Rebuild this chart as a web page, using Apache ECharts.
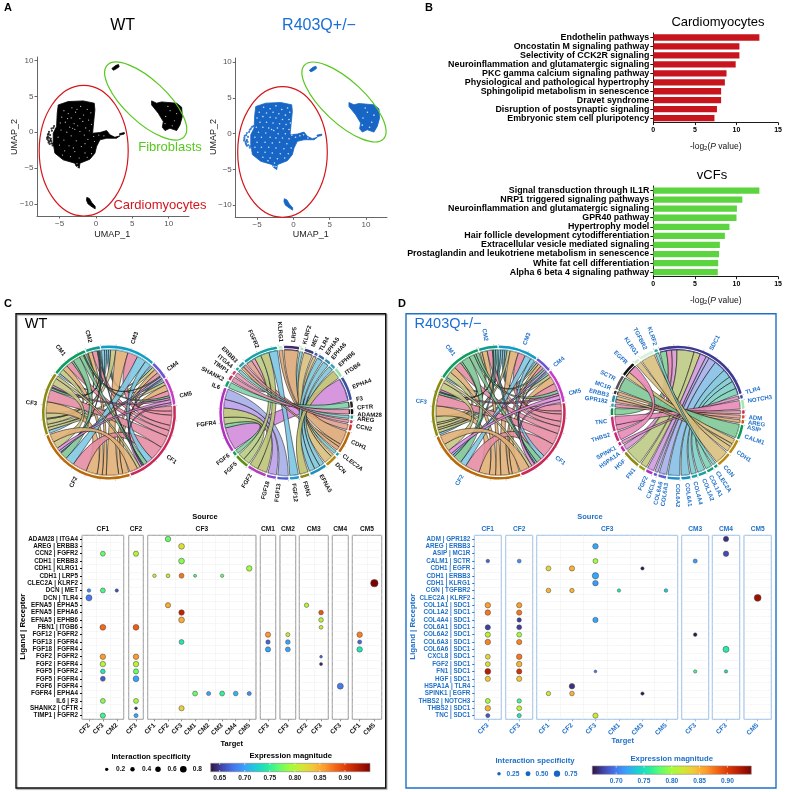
<!DOCTYPE html>
<html><head><meta charset="utf-8">
<style>html,body{margin:0;background:#fff}#c{width:785px;height:792px}</style>
<script src="https://cdn.jsdelivr.net/npm/echarts@6/dist/echarts.min.js"></script>
</head><body><div id="c"></div>
<script>
// ---------- Panel A: UMAP outlines (UMAP units)
const cmOutline=[[-5.18,3.81],[-3.81,4.28],[-1.74,4.37],[-0.23,4.05],[-0.14,3.12],[-0.46,-0.14],[0.55,-0.05],[1.47,0.23],[1.93,-0.37],[2.61,-0.7],[3.3,-0.51],[2.84,-0.84],[1.47,-0.84],[0.55,-1.07],[0.09,-2.0],[-0.14,-2.93],[-0.83,-3.77],[-2.2,-4.33],[-2.29,-5.02],[-2.75,-4.7],[-2.89,-4.33],[-4.5,-3.86],[-5.64,-2.93],[-5.87,-1.53],[-5.87,-0.14],[-5.41,0.79],[-5.32,2.65]];
const fbOutline=[[7.66,4.37],[8.35,4.05],[9.04,4.23],[11.1,4.05],[11.79,3.49],[11.88,2.19],[11.56,1.02],[11.1,0.23],[10.18,0.56],[9.5,0.23],[9.13,0.7],[9.27,1.49],[8.58,2.65],[7.66,3.81]];
const fbTopOutline=[[2.2,8.9],[2.7,9.3],[3.1,9.45],[3.2,9.15],[2.8,8.85],[2.4,8.65]];
const cmLowOutline=[[-1.25,-9.1],[-0.9,-9.25],[-0.55,-9.85],[-0.1,-10.35],[-0.1,-10.7],[-0.5,-10.45],[-1.1,-10.0],[-1.3,-9.5]];
const cmTipOutline=[[3.25,-0.2],[3.9,-0.05],[3.9,-0.25],[3.3,-0.4]];
const wtLeftArc=[[-6.5,-0.2],[-6.6,-0.6],[-6.7,-0.95],[-6.4,-1.3],[-6.1,-1.55],[-6.2,-0.9],[-6.35,-1.65],[-5.9,-1.6],[-6.45,0.05],[-6.1,0.5],[-5.75,0.85],[-6.55,-1.15],[-6.3,-0.4],[-5.95,-1.85],[-6.05,0.2],[-6.6,-0.35],[-6.25,-1.1],[-6.5,-1.45],[-5.6,-1.75],[-5.85,0.6],[-6.45,-0.8],[-6.7,-0.75],[-6.15,-1.25]];
const wtWhiteSpecks=[[-3.3,3.4],[-2.1,3.6],[-4.4,3.0],[-1.2,3.2],[-3.8,2.6],[-2.8,2.8],[-1.7,2.4],[-0.7,2.7],[-4.7,2.1],[-3.4,2.0],[-2.2,1.9],[-1.0,1.7],[-4.2,1.4],[-3.0,1.2],[-1.8,1.5],[-0.6,1.1],[-3.6,0.7],[-2.5,0.9],[-3.2,0.55],[-2.9,0.4],[-1.4,0.6],[-4.8,0.3],[-4.0,0.0],[-2.2,0.1],[-0.9,0.2],[-5.2,-0.7],[-3.4,-0.5],[-1.6,-0.4],[-0.3,-0.6],[0.4,-0.4],[1.1,-0.5],[-4.4,-1.1],[-2.7,-1.2],[-1.1,-1.0],[-0.2,-1.3],[-5.0,-1.8],[-3.7,-1.9],[-2.0,-2.0],[-0.6,-2.1],[-4.3,-2.6],[-2.9,-2.7],[-1.5,-2.9],[-0.6,-3.0],[-3.5,-3.4],[-2.3,-3.6],[-1.2,-3.5],[-4.6,-3.2],[-2.6,-4.4],[-2.5,-4.8],[-0.2,0.9],[-3.9,1.9],[-2.6,3.2],[-4.9,1.3],[-1.5,-1.6],[-3.1,-2.2]];
const r4LeftArc=[[-6.5,-0.2],[-6.75,-0.55],[-6.8,-0.95],[-6.55,-1.35],[-6.2,-1.6],[-6.4,-0.85],[-6.4,-1.7],[-5.95,-1.75],[-6.4,0.1],[-6.0,0.55],[-5.7,0.95],[-6.6,-1.15],[-6.25,-0.45],[-6.0,-1.95],[-6.1,0.25],[-6.7,-0.3],[-6.3,-1.15],[-6.5,-1.5],[-5.55,-1.85],[-5.85,0.7],[-5.5,1.05],[-6.75,-0.75],[-6.45,-1.0]];
const r4WhiteSpecks=[[-4.1,3.7],[-3.2,3.5],[-2.4,3.9],[-1.6,3.4],[-0.8,3.6],[-4.7,3.0],[-3.7,2.9],[-2.8,3.0],[-2.0,2.8],[-1.1,2.6],[-0.5,3.0],[-5.0,2.2],[-4.2,2.4],[-3.2,2.3],[-2.4,2.2],[-1.5,2.0],[-0.6,2.0],[-4.6,1.6],[-3.7,1.6],[-2.8,1.5],[-1.9,1.4],[-1.0,1.3],[-0.4,1.5],[-5.1,0.9],[-4.2,0.9],[-3.4,0.8],[-3.0,0.6],[-2.7,0.45],[-2.2,0.8],[-1.4,0.7],[-0.6,0.6],[-4.8,0.2],[-3.8,0.1],[-2.1,0.0],[-1.1,0.0],[-0.2,-0.2],[-5.3,-0.5],[-4.4,-0.5],[-3.2,-0.5],[-2.4,-0.6],[-1.5,-0.6],[-0.6,-0.7],[0.3,-0.5],[0.9,-0.3],[-5.0,-1.2],[-3.9,-1.2],[-2.9,-1.3],[-1.9,-1.2],[-0.9,-1.4],[-5.3,-1.9],[-4.4,-1.9],[-3.4,-1.9],[-2.4,-2.0],[-1.3,-2.1],[-0.3,-2.0],[-4.9,-2.6],[-3.9,-2.6],[-2.9,-2.7],[-1.8,-2.8],[-0.7,-2.8],[-4.2,-3.3],[-3.2,-3.4],[-2.2,-3.5],[-1.2,-3.4],[-2.6,-4.1],[-2.4,-4.6],[-2.7,-4.55],[-3.5,-3.8],[1.4,-0.15],[2.0,-0.6]];
const fbSpecks=[[10.2,3.0],[9.6,2.2],[10.8,1.6],[10.5,0.9],[9.9,3.6],[11.1,2.6],[9.5,1.2]];
const umapXTicks=[-5,0,5,10], umapYTicks=[-10,-5,0,5,10];

// ---------- Panel B: pathway enrichment
const cmPathways=['Endothelin pathways','Oncostatin M signaling pathway','Selectivity of CCK2R signaling','Neuroinflammation and glutamatergic signaling','PKC gamma calcium signaling pathway','Physiological and pathological hypertrophy','Sphingolipid metabolism in senescence','Dravet syndrome','Disruption of postsynaptic signaling','Embryonic stem cell pluripotency'];
const cmLogP=[12.75,10.35,10.35,9.9,8.8,8.6,8.15,8.15,7.65,7.35];
const cfPathways=['Signal transduction through IL1R','NRP1 triggered signaling pathways','Neuroinflammation and glutamatergic signaling','GPR40 pathway','Hypertrophy model','Hair follicle development cytodifferentiation','Extracellular vesicle mediated signaling','Prostaglandin and leukotriene metabolism in senescence','White fat cell differentiation','Alpha 6 beta 4 signaling pathway'];
const cfLogP=[12.75,10.7,10.05,10,9.15,8.6,8.0,7.9,7.8,7.75];

// ---------- Panels C/D: cell-cell chords
const cellNodes=['CM3','CM4','CM5','CF1','CF2','CF3','CM1','CM2'];
const wtCellLinks=[['CM3','CF3',3],['CM3','CM1',2],['CM3','CM4',2],['CM3','CM5',2],['CF3','CM5',3],['CF3','CM4',3],['CF3','CM3',5],['CF3','CM2',1],['CF3','CM1',5],['CF2','CM5',6],['CF2','CM4',4],['CF2','CM3',12],['CF2','CM2',4],['CF2','CM1',5],['CF2','CF3',11],['CF1','CM5',5],['CF1','CM4',4],['CF1','CM3',10],['CF1','CM2',5],['CF1','CM1',6],['CF1','CF3',12],['CF1','CF2',14],['CM3','CF2',9],['CM3','CF1',6],['CM1','CF3',2],['CM1','CF2',7],['CM1','CF1',4],['CM1','CM4',1],['CM1','CM5',2],['CM2','CF3',1],['CM2','CF2',1],['CM2','CF1',1],['CM4','CF2',2],['CM4','CF1',1],['CM5','CF3',2],['CM5','CF2',3],['CM5','CF1',2],['CF3','CF2',7],['CF3','CF1',3],['CF2','CF1',8]];
const r4CellLinks=[['CM3','CF3',2],['CM3','CM1',2],['CM3','CM4',2],['CM3','CM5',2],['CF3','CM5',3],['CF3','CM4',2],['CF3','CM3',3],['CF3','CM2',2],['CF3','CM1',6],['CF2','CM5',7],['CF2','CM4',3],['CF2','CM3',8],['CF2','CM2',5],['CF2','CM1',6],['CF2','CF3',10],['CF1','CM5',7],['CF1','CM4',3],['CF1','CM3',7],['CF1','CM2',5],['CF1','CM1',7],['CF1','CF3',11],['CF1','CF2',14],['CM3','CF2',6],['CM3','CF1',4],['CM1','CF3',2],['CM1','CF2',8],['CM1','CF1',5],['CM1','CM4',2],['CM1','CM5',3],['CM2','CF3',1],['CM2','CF2',2],['CM2','CF1',2],['CM4','CF2',2],['CM4','CF1',1],['CM5','CF3',2],['CM5','CF2',4],['CM5','CF1',3],['CF3','CF2',7],['CF3','CF1',3],['CF2','CF1',9]];
// ---------- gene chords
const wtGenes=['LRP5','KLRF2','MET','TLR4','EPHA5','EPHA6','EPHB6','ITGB6','EPHA4','F3','CFTR','ADAM28','AREG','CCN2','CDH1','CLEC2A','DCN','EFNA5','FBN1','FGF12','FGF13','FGF18','FGF2','FGF5','FGF6','FGFR4','IL6','SHANK2','TIMP1','ITGA4','ERBB3','FGFR2','KLRG1'];
const wtGeneLinks=[['FGFR4','EPHA4',24],['FGF6','FGFR4',4],['FGF5','FGFR4',7],['FGF2','FGFR4',10],['FGF18','FGFR4',9],['FGF13','FGFR4',11],['CCN2','FGFR2',6],['TIMP1','FGFR2',4],['FGF5','FGFR2',7],['FGF2','FGFR2',9],['FGF12','FGFR2',9],['CDH1','LRP5',15],['CDH1','ERBB3',3],['CDH1','KLRG1',4],['CLEC2A','KLRF2',3],['DCN','TLR4',3],['DCN','MET',9],['EFNA5','EPHB6',5],['EFNA5','EPHA6',6],['EFNA5','EPHA5',6],['FBN1','ITGB6',9],['IL6','F3',6],['SHANK2','CFTR',5],['ADAM28','ITGA4',3],['AREG','ERBB3',3]];
const r4Genes=['SDC1','TLR4','NOTCH3','ADM','AREG','ASIP','CALM1','CDH1','CGN','CLEC2A','COL1A1','COL1A2','COL4A4','COL6A1','COL6A2','COL6A3','COL6A6','CXCL8','FGF2','FN1','HGF','HSPA1A','SPINK1','THBS2','TNC','GPR182','ERBB3','MC1R','SCTR','EGFR','KLRG1','TGFBR2','KLRF2'];
const r4GeneLinks=[['TNC','SDC1',6],['THBS2','SDC1',5],['HGF','SDC1',5],['FN1','SDC1',16],['FGF2','SDC1',6],['CXCL8','SDC1',6],['COL6A6','SDC1',3],['COL6A3','SDC1',7],['COL6A2','SDC1',11],['COL6A1','SDC1',8],['COL4A4','SDC1',5],['COL1A2','SDC1',7],['COL1A1','SDC1',6],['HSPA1A','TLR4',3],['THBS2','NOTCH3',8],['ADM','GPR182',3],['AREG','ERBB3',3],['ASIP','MC1R',3],['CALM1','SCTR',13],['CDH1','EGFR',5],['CDH1','ERBB3',3],['CDH1','KLRG1',5],['CGN','TGFBR2',13],['CLEC2A','KLRF2',3],['SPINK1','EGFR',8]];
// ---------- dot plots: [source, target, row, specificity, magnitude]
const wtRows=['ADAM28 | ITGA4','AREG | ERBB3','CCN2 | FGFR2','CDH1 | ERBB3','CDH1 | KLRG1','CDH1 | LRP5','CLEC2A | KLRF2','DCN | MET','DCN | TLR4','EFNA5 | EPHA5','EFNA5 | EPHA6','EFNA5 | EPHB6','FBN1 | ITGB6','FGF12 | FGFR2','FGF13 | FGFR4','FGF18 | FGFR4','FGF2 | FGFR2','FGF2 | FGFR4','FGF5 | FGFR2','FGF5 | FGFR4','FGF6 | FGFR4','FGFR4 | EPHA4','IL6 | F3','SHANK2 | CFTR','TIMP1 | FGFR2'];
const wtFacets=[['CF1',['CF2','CF3','CM2']],['CF2',['CF3']],['CF3',['CF1','CF2','CF3','CM1','CM2','CM3','CM4','CM5']],['CM1',['CF3']],['CM2',['CF3']],['CM3',['CF2','CF3']],['CM4',['CF3']],['CM5',['CF1','CM5']]];
const wtDots=[['CF1','CF3',2,.5,.77],['CF1','CF2',7,.25,.69],['CF1','CF3',7,.5,.76],['CF1','CM2',7,.2,.66],['CF1','CF2',8,.7,.68],['CF1','CF3',12,.65,.88],['CF1','CF3',16,.6,.86],['CF1','CF3',17,.6,.8],['CF1','CF3',18,.45,.74],['CF1','CF3',19,.5,.665],['CF1','CF3',22,.5,.78],['CF1','CF3',24,.55,.755],
['CF2','CF3',2,.55,.8],['CF2','CF3',12,.65,.885],['CF2','CF3',16,.6,.86],['CF2','CF3',17,.6,.8],['CF2','CF3',18,.55,.77],['CF2','CF3',19,.65,.7],['CF2','CF3',22,.5,.79],['CF2','CF3',23,.1,.64],['CF2','CF3',24,.35,.7],
['CF3','CF2',0,.6,.77],['CF3','CF3',1,.65,.82],['CF3','CF3',3,.65,.78],['CF3','CF1',5,.25,.81],['CF3','CF2',5,.3,.81],['CF3','CF3',5,.5,.875],['CF3','CM1',5,.15,.76],['CF3','CM3',5,.2,.77],['CF3','CM5',4,.6,.79],['CF3','CF2',9,.55,.85],['CF3','CF3',10,.6,.92],['CF3','CF3',11,.65,.85],['CF3','CF3',14,.5,.74],['CF3','CM1',21,.5,.77],['CF3','CM2',21,.35,.7],['CF3','CM3',21,.5,.75],['CF3','CM4',21,.45,.71],['CF3','CM5',21,.35,.69],['CF3','CF3',23,.55,.83],
['CM1','CF3',13,.55,.86],['CM1','CF3',14,.4,.67],['CM1','CF3',15,.55,.7],['CM2','CF3',13,.35,.81],['CM2','CF3',14,.45,.7],['CM2','CF3',15,.5,.7],
['CM3','CF2',9,.4,.8],['CM3','CF3',10,.45,.89],['CM3','CF3',11,.45,.8],['CM3','CF3',12,.3,.81],['CM3','CF3',16,.1,.67],['CM3','CF3',17,.15,.64],
['CM4','CF3',20,.7,.68],['CM5','CF1',13,.6,.87],['CM5','CF1',14,.35,.67],['CM5','CF1',15,.6,.74],['CM5','CM5',6,.95,.95]];
const r4Rows=['ADM | GPR182','AREG | ERBB3','ASIP | MC1R','CALM1 | SCTR','CDH1 | EGFR','CDH1 | ERBB3','CDH1 | KLRG1','CGN | TGFBR2','CLEC2A | KLRF2','COL1A1 | SDC1','COL1A2 | SDC1','COL4A4 | SDC1','COL6A1 | SDC1','COL6A2 | SDC1','COL6A3 | SDC1','COL6A6 | SDC1','CXCL8 | SDC1','FGF2 | SDC1','FN1 | SDC1','HGF | SDC1','HSPA1A | TLR4','SPINK1 | EGFR','THBS2 | NOTCH3','THBS2 | SDC1','TNC | SDC1'];
const r4Facets=[['CF1',['CF3']],['CF2',['CF3']],['CF3',['CF1','CF2','CF3','CM1','CM3','CM5']],['CM3',['CF3']],['CM4',['CF3']],['CM5',['CM5']]];
const r4Dots=[['CF1','CF3',3,.25,.69],['CF1','CF3',9,.6,.86],['CF1','CF3',10,.6,.875],['CF1','CF3',12,.55,.675],['CF1','CF3',13,.55,.81],['CF1','CF3',14,.6,.87],['CF1','CF3',16,.5,.83],['CF1','CF3',17,.5,.825],['CF1','CF3',18,.65,.92],['CF1','CF3',19,.55,.84],['CF1','CF3',22,.5,.8],['CF1','CF3',23,.6,.85],['CF1','CF3',24,.35,.685],
['CF2','CF3',3,.3,.71],['CF2','CF3',9,.55,.86],['CF2','CF3',10,.55,.875],['CF2','CF3',11,.4,.675],['CF2','CF3',12,.5,.675],['CF2','CF3',13,.5,.8],['CF2','CF3',14,.55,.87],['CF2','CF3',16,.6,.875],['CF2','CF3',17,.6,.85],['CF2','CF3',18,.55,.905],['CF2','CF3',19,.55,.84],['CF2','CF3',22,.4,.77],['CF2','CF3',23,.5,.81],['CF2','CF3',24,.35,.755],
['CF3','CF3',1,.6,.72],['CF3','CF3',3,.5,.8],['CF3','CF1',4,.5,.83],['CF3','CF2',4,.55,.85],['CF3','CM3',4,.2,.66],['CF3','CF3',5,.75,.72],['CF3','CF3',6,.6,.715],['CF3','CF1',7,.45,.85],['CF3','CF2',7,.4,.85],['CF3','CM1',7,.2,.76],['CF3','CM5',7,.25,.74],['CF3','CF3',11,.55,.72],['CF3','CF3',18,.1,.7],['CF3','CF2',20,.6,.67],['CF3','CF1',21,.4,.82],['CF3','CF2',21,.45,.85],['CF3','CM3',21,.2,.66],['CF3','CF3',24,.55,.82],
['CM3','CF3',3,.35,.715],['CM3','CF3',13,.25,.66],['CM3','CF3',18,.2,.77],['CM4','CF3',0,.55,.67],['CM4','CF3',2,.6,.68],['CM4','CF3',15,.7,.76],['CM4','CF3',18,.2,.75],['CM5','CM5',8,.85,.93]];
const specWT=[.2,.4,.6,.8], specR4=[.25,.5,.75];
const magTicksWT=[.65,.7,.75,.8,.85,.9], magTicksR4=[.7,.75,.8,.85,.9];

// ---------- styles and geometry (not data)
const F='"Liberation Sans",Arial,sans-serif', BLUE='#1f70c8', RED='#d4161c', GREEN='#57c81e';
const turbo=['#30123B','#4145AB','#4675ED','#39A2FC','#1BCFD4','#24ECA6','#61FC6C','#A4FC3B','#D1E834','#F3C63A','#FE9B2D','#F36315','#D93806','#B11901','#7A0402'];
const cellFill={CF1:'#c8285a',CF2:'#b86a08',CF3:'#8b8b12',CM1:'#0e9c5f',CM2:'#139a8f',CM3:'#149cc4',CM4:'#6a56d2',CM5:'#c53cc6'};
const cellRibbon={CF1:'#e58ea4',CF2:'#e0b077',CF3:'#c7c585',CM1:'#7fc596',CM2:'#66bdb5',CM3:'#7fc9e2',CM4:'#b0a6e6',CM5:'#e090dd'};
const wtGeneFill={LRP5:'#3c2a66',KLRF2:'#a8e0c0',MET:'#3a3a80',TLR4:'#4a5fa0',EPHA5:'#3a70a8',EPHA6:'#3a88b0',EPHB6:'#3aa0b8',ITGB6:'#90e0b0',EPHA4:'#3c4fa0',F3:'#222',CFTR:'#111',ADAM28:'#10a090',AREG:'#d02c50',CCN2:'#d0342a',CDH1:'#b8660a',CLEC2A:'#1a9aa0',DCN:'#b08a10',EFNA5:'#1a8fb8',FBN1:'#8a8a10',FGF12:'#1a9ad0',FGF13:'#5060d0',FGF18:'#8a48d0',FGF2:'#b040c0',FGF5:'#5a9010',FGF6:'#10a060',FGFR4:'#b030c0',IL6:'#10a070',SHANK2:'#c83060',TIMP1:'#d04070',ITGA4:'#1aa8a0',ERBB3:'#2aa0a8',FGFR2:'#18a0a8',KLRG1:'#bfeccf'};
const wtRibbon={CDH1:'#dba877',FGFR4:'#d18cdb',FGF13:'#a6aee8',FGF18:'#bba0ec',FGF12:'#7cc4e4',FGF2:'#bcc47a',FGF5:'#b8cc84',FGF6:'#7fd0a0',IL6:'#7fd0ac',SHANK2:'#e090b0',TIMP1:'#e89ab8',ADAM28:'#80d0c8',AREG:'#e893a8',CCN2:'#e0a090',CLEC2A:'#80cfd0',DCN:'#d8c080',EFNA5:'#7fc6d8',FBN1:'#c0c070'};
const r4GeneFill={SDC1:'#3f3a8f',TLR4:'#3a4f9f',NOTCH3:'#a8e6b0',ADM:'#d0224f',AREG:'#d8483a',ASIP:'#c8551a',CALM1:'#0f9a56',CDH1:'#b88a10',CGN:'#b88a10',CLEC2A:'#109a80',COL1A1:'#10a080',COL1A2:'#1aa0a0',COL4A4:'#15a5a5',COL6A1:'#1590c0',COL6A2:'#2090d0',COL6A3:'#5c60d0',COL6A6:'#7050c8',CXCL8:'#b030c0',FGF2:'#9a9a10',FN1:'#8a8a10',HGF:'#c030a8',HSPA1A:'#c02080',SPINK1:'#c82878',THBS2:'#cc2f7a',TNC:'#0a9050',GPR182:'#3aa0b0',ERBB3:'#2f8fb0',MC1R:'#333',SCTR:'#555',EGFR:'#111',KLRG1:'#cfeecf',TGFBR2:'#d8f0dc',KLRF2:'#2aa8a0'};
const r4Ribbon={TNC:'#7fcf98',THBS2:'#e88ab8',HGF:'#d89ad0',FN1:'#bdcb85',FGF2:'#c2ca80',CXCL8:'#cf9ae0',COL6A6:'#b4a8e8',COL6A3:'#a6b0ea',COL6A2:'#86bfe6',COL6A1:'#80c4dc',COL4A4:'#80cbd0',COL1A2:'#7fcdc8',COL1A1:'#7fd0b8',HSPA1A:'#e090c8',ADM:'#e890a8',AREG:'#e8a090',ASIP:'#e0a878',CALM1:'#7fc898',CDH1:'#d8c080',CGN:'#d8c080',CLEC2A:'#80d0c4',SPINK1:'#e88ab8'};
const wtLabelClock={FGFR2:336,KLRG1:355.6,LRP5:5.8,KLRF2:15,MET:22,TLR4:29,EPHA5:34.8,EPHA6:40.5,EPHB6:48.5,ITGB6:56.5,EPHA4:69,F3:79.4,CFTR:86,ADAM28:91.5,AREG:95,CCN2:101,CDH1:114,CLEC2A:127,DCN:135.7,EFNA5:151,FBN1:165,FGF12:174,FGF13:186,FGF18:195,FGF2:210,FGF5:225,FGF6:233.5,FGFR4:262,IL6:290.6,SHANK2:297.7,TIMP1:305,ITGA4:310,ERBB3:315.6};
const r4LabelClock={SDC1:28,TLR4:73.7,NOTCH3:80.7,ADM:94,AREG:98,ASIP:102,CALM1:109.5,CDH1:123.6,CGN:139,CLEC2A:146.5,COL1A1:152.7,COL1A2:158.6,COL4A4:166,COL6A1:172.6,COL6A2:180,COL6A3:189,COL6A6:193.5,CXCL8:199,FGF2:206,FN1:217.6,HGF:228,HSPA1A:235,SPINK1:240.6,THBS2:252,TNC:263,GPR182:279,ERBB3:284,MC1R:290,SCTR:298,EGFR:314,KLRG1:325,TGFBR2:333,KLRF2:341.5};

const grid=[],xAxis=[],yAxis=[],series=[],graphic=[];
function txt(x,y,s,o={}){graphic.push({type:'text',x,y,z:100,rotation:o.rot||0,silent:true,style:{text:s,fontFamily:F,fontSize:o.size||8,fontWeight:o.w||'normal',fill:o.c||'#000',align:o.a||'center',verticalAlign:'middle'}});}

// ---- A
function umap(left,top,w,h,xmin,xmax,ymin,ymax,color,arc,specks,speckSize){
  const i=grid.length;
  grid.push({left,top,width:w,height:h});
  const fmt=v=>String(v).replace('-','\u2212');
  const line={show:true,onZero:false,lineStyle:{color:'#666',width:1}};
  const base={color:'#555',fontSize:8,fontFamily:F,margin:3.5,formatter:fmt};
  xAxis.push({gridIndex:i,type:'value',min:xmin,max:xmax,axisLine:line,splitLine:{show:false},axisTick:{show:true,length:2.5,lineStyle:{color:'#666'},customValues:umapXTicks},axisLabel:{...base,customValues:umapXTicks}});
  yAxis.push({gridIndex:i,type:'value',min:ymin,max:ymax,axisLine:line,splitLine:{show:false},axisTick:{show:true,length:2.5,lineStyle:{color:'#666'},customValues:umapYTicks},axisLabel:{...base,customValues:umapYTicks}});
  const poly=[cmOutline,fbOutline,fbTopOutline,cmLowOutline,cmTipOutline];
  series.push({type:'custom',xAxisIndex:i,yAxisIndex:i,silent:true,clip:false,data:poly.map((_,k)=>[k]),renderItem:(p,api)=>{
    const pts=poly[api.value(0)].map(q=>api.coord(q));
    return {type:'polygon',shape:{points:pts},style:{fill:color,stroke:color,lineWidth:.8}};
  }});
  series.push({type:'scatter',xAxisIndex:i,yAxisIndex:i,silent:true,symbolSize:2.2,itemStyle:{color},data:arc});
  series.push({type:'scatter',xAxisIndex:i,yAxisIndex:i,silent:true,symbolSize:speckSize,itemStyle:{color:'#fff'},data:specks.concat(fbSpecks),z:3});
}
umap(37,57,152,159,-8.1,12.8,-11.7,10.5,'#000',wtLeftArc,wtWhiteSpecks,1.2);
umap(235.3,58,151.7,159.3,-8,12.9,-11.7,10.6,'#1766c6',r4LeftArc,r4WhiteSpecks,1.6);
const ell=(x,y,rx,ry,deg,c)=>graphic.push({type:'ellipse',x,y,z:90,rotation:-deg*Math.PI/180,silent:true,shape:{cx:0,cy:0,rx,ry},style:{fill:'none',stroke:c,lineWidth:1.2}});
ell(83.7,150.7,44.5,65.3,0,RED);ell(145.7,101,52.5,21,43,GREEN);ell(282.5,152,44.8,65.3,0,RED);ell(344,102,54,21,43,GREEN);
txt(122.7,26,'WT',{size:16});txt(319,26,'R403Q+/\u2212',{size:16,c:'#1a6ed8'});
txt(170,147,'Fibroblasts',{size:13,c:GREEN});txt(160,205,'Cardiomyocytes',{size:13,c:RED});
txt(15,137,'UMAP_2',{size:9,rot:Math.PI/2,c:'#222'});txt(213.5,137,'UMAP_2',{size:9,rot:Math.PI/2,c:'#222'});
txt(112.3,235,'UMAP_1',{size:9,c:'#222'});txt(310.7,235,'UMAP_1',{size:9,c:'#222'});

// ---- B
function bars(top,h,names,vals,color,l,w){
  const i=grid.length;
  grid.push({left:l,top,width:w,height:h});
  const line={show:true,lineStyle:{color:'#000',width:.9}};
  xAxis.push({gridIndex:i,type:'value',min:0,max:15,interval:5,axisLine:line,axisTick:{show:true,length:2.5,lineStyle:{color:'#000',width:.9}},splitLine:{show:false},axisLabel:{fontSize:7,fontWeight:'bold',color:'#000',fontFamily:F,margin:4},
    nameLocation:'middle',nameGap:19,name:'{a|-log}{s|2}{a|(}{i|P}{a| value)}',nameTextStyle:{rich:{a:{fontSize:8.5,fontFamily:F,color:'#111'},i:{fontSize:8.5,fontFamily:F,fontStyle:'italic',color:'#111'},s:{fontSize:6,fontFamily:F,color:'#111',padding:[4,0,0,0]}}}});
  yAxis.push({gridIndex:i,type:'category',inverse:true,data:names,axisLine:line,axisTick:{show:true,length:3,alignWithLabel:true,lineStyle:{color:'#000',width:.9}},axisLabel:{fontSize:8.9,fontWeight:'bold',color:'#000',fontFamily:F,margin:4,interval:0},splitLine:{show:false}});
  series.push({type:'bar',xAxisIndex:i,yAxisIndex:i,data:vals,barWidth:6.3,silent:true,itemStyle:{color}});
}
bars(33,89.6,cmPathways,cmLogP,'#c8141c',653.3,126.7);
bars(186,90.7,cfPathways,cfLogP,'#5bd43f',653.3,126);
txt(718,22.5,'Cardiomyocytes',{size:13});txt(712,175.5,'vCFs',{size:13});

// ---- C, D dot plots
const visualMaps=[];
const dotSize=s=>2.2+5.5*s;
function dotPlot(rows,facets,dots,boxes,opt){
  const ids=[];
  facets.forEach(([src,cats],k)=>{
    const i=grid.length,[x0,x1]=boxes[k];
    grid.push({left:x0,top:535.3,width:x1-x0,height:184,show:true,borderColor:opt.box,borderWidth:1,backgroundColor:'transparent'});
    const dotted={show:true,lineStyle:{color:'#e6e6e6',type:'dotted',width:.6}};
    xAxis.push({gridIndex:i,type:'category',data:cats,axisLine:{show:false},axisTick:{show:true,length:2,alignWithLabel:true,lineStyle:{color:opt.box}},splitLine:{...dotted,interval:0},boundaryGap:true,
      axisLabel:{interval:0,rotate:45,fontSize:6.6,fontWeight:'bold',color:opt.text,fontFamily:F,margin:5}});
    yAxis.push({gridIndex:i,type:'category',inverse:true,data:rows,axisLine:{show:false},splitLine:{...dotted,interval:0},
      axisTick:{show:k===0,length:2,alignWithLabel:true,lineStyle:{color:opt.text}},axisLabel:{show:k===0,interval:0,fontSize:6.3,fontWeight:'bold',color:opt.text,fontFamily:F,margin:4}});
    ids.push(series.length);
    series.push({type:'scatter',xAxisIndex:i,yAxisIndex:i,silent:true,z:5,
      data:dots.filter(d=>d[0]===src).map(d=>[d[1],rows[d[2]],d[3],d[4]]),
      symbolSize:v=>dotSize(v[2]),itemStyle:{borderColor:'#444',borderWidth:.5,opacity:1}});
    txt((x0+x1)/2,529,src,{size:6.6,w:'bold',c:opt.text});
  });
  visualMaps.push({type:'continuous',show:false,min:opt.min,max:opt.max,dimension:3,seriesIndex:ids,inRange:{color:turbo}});
}
dotPlot(wtRows,wtFacets,wtDots,[[82,123.7],[128.7,143.3],[147.7,256],[260.3,275.7],[280,295.7],[299.3,328.3],[332.3,348.3],[352.3,381.7]],{box:'#8a8a8a',text:'#111',min:.632,max:.95});
dotPlot(r4Rows,r4Facets,r4Dots,[[474.3,501.3],[505.7,532.7],[536.7,677.7],[681.7,708.7],[712.3,739.7],[744,771.3]],{box:'#8cb8ea',text:BLUE,min:.657,max:.943});

function colorbar(x0,x1,y0,y1,min,max,ticks,lblY,c){
  graphic.push({type:'rect',z:100,silent:true,shape:{x:x0,y:y0,width:x1-x0,height:y1-y0},style:{stroke:'#888',lineWidth:.6,fill:{type:'linear',x:0,y:0,x2:1,y2:0,colorStops:turbo.map((col,i)=>({offset:i/(turbo.length-1),color:col}))}}});
  ticks.forEach(t=>{const x=x0+(t-min)/(max-min)*(x1-x0);txt(x,lblY,t.toFixed(2),{size:6.6,w:'bold',c});
    graphic.push({type:'line',z:101,silent:true,shape:{x1:x,y1:y0,x2:x,y2:y0+1.7},style:{stroke:'#fff',lineWidth:.6}});
    graphic.push({type:'line',z:101,silent:true,shape:{x1:x,y1:y1-1.7,x2:x,y2:y1},style:{stroke:'#fff',lineWidth:.6}});});
}
function sizeLegend(vals,xs,y,fmt,c,dot){vals.forEach((v,i)=>{graphic.push({type:'circle',z:100,silent:true,shape:{cx:xs[i],cy:y,r:dotSize(v)/2},style:{fill:dot}});txt(xs[i]+14,y,fmt(v),{size:6.6,w:'bold',c});});}
colorbar(210.7,370,763.3,771.7,.632,.95,magTicksWT,777.7,'#222');
colorbar(592.3,751.3,766,774.3,.657,.943,magTicksR4,780.7,BLUE);
sizeLegend(specWT,[106.7,132.5,158,183.3],769.3,v=>v.toFixed(1),'#111','#000');
sizeLegend(specR4,[499,528,557],773.7,v=>v.toFixed(2),BLUE,'#1766c6');
txt(151,757,'Interaction specificity',{size:7.7,w:'bold'});txt(290.7,756,'Expression magnitude',{size:7.7,w:'bold'});
txt(535,761,'Interaction specificity',{size:7.7,w:'bold',c:BLUE});txt(671.7,758.7,'Expression magnitude',{size:7.7,w:'bold',c:BLUE});
txt(205,516.7,'Source',{size:7.5,w:'bold'});txt(231.7,744,'Target',{size:7.5,w:'bold'});
txt(590,516.7,'Source',{size:7.5,w:'bold',c:BLUE});txt(622.7,741.3,'Target',{size:7.5,w:'bold',c:BLUE});
txt(23,626.7,'Ligand | Receptor',{size:7.8,w:'bold',rot:Math.PI/2});txt(412.7,626.7,'Ligand | Receptor',{size:7.8,w:'bold',rot:Math.PI/2,c:BLUE});
graphic.push({type:'rect',z:90,silent:true,shape:{x:16,y:313.7,width:369.7,height:474.3},style:{fill:'none',stroke:'#111',lineWidth:1.4,shadowColor:'rgba(0,0,0,.4)',shadowOffsetX:1,shadowOffsetY:1,shadowBlur:1}});
graphic.push({type:'rect',z:90,silent:true,shape:{x:406,y:313.7,width:370,height:474.3},style:{fill:'none',stroke:'#1f70c8',lineWidth:1.4}});
txt(36,324,'WT',{size:14.5});txt(448,324,'R403Q+/\u2212',{size:14.5,c:'#1a6ed8'});
txt(8,8,'A',{size:11,w:'bold'});txt(429,8,'B',{size:11,w:'bold'});txt(8,304,'C',{size:11,w:'bold'});txt(402,304,'D',{size:11,w:'bold'});

// ---- chords: ribbon layer (filled from source colour, outlined after layout), outer ring layer
const chords=[];
function chord(nodes,links,fill,ribbon,cx,cy,startClock,pad){
  const common={type:'chord',center:[cx,cy],startAngle:90-startClock,clockwise:true,padAngle:pad,silent:true,animation:false,label:{show:false}};
  const linkData=links.map(([s,t,v])=>({source:s,target:t,value:v}));
  const ribbonIdx=series.length;
  series.push({...common,radius:[62.8,63.6],itemStyle:{borderWidth:0},lineStyle:{width:.5,color:'source',opacity:.9},
    data:nodes.map(n=>({name:n,itemStyle:{color:ribbon[n]||fill[n]}})),links:linkData});
  const idx=series.length;
  series.push({...common,radius:[64.5,67],itemStyle:{borderWidth:0},lineStyle:{width:0,color:'source',opacity:0},
    data:nodes.map(n=>({name:n,itemStyle:{color:fill[n]}})),links:linkData});
  chords.push({idx,ribbonIdx,nodes,cx,cy});
}
chord(cellNodes,wtCellLinks,cellFill,cellRibbon,109,412.5,353,1);
chord(wtGenes,wtGeneLinks,wtGeneFill,wtRibbon,286.3,412.8,-2,1.3);
chord(cellNodes,r4CellLinks,cellFill,cellRibbon,498.7,412.5,0,1);
chord(r4Genes,r4GeneLinks,r4GeneFill,r4Ribbon,677.7,412.7,-16.4,1.3);

function radial(cx,cy,clock,r,s,size,c,w){
  const th=(90-clock)*Math.PI/180, right=Math.cos(th)>=0;
  graphic.push({type:'text',silent:true,z:100,x:cx+r*Math.cos(th),y:cy-r*Math.sin(th),rotation:right?th:th+Math.PI,style:{text:s,fontFamily:F,fontSize:size,fontWeight:w||'bold',fill:c,align:right?'left':'right',verticalAlign:'middle'}});
}
const cellClockWT={CM3:19,CM4:54,CM5:77,CF1:127,CF2:207,CF3:277,CM1:322,CM2:345};
const cellClockR4={CM3:21,CM4:50,CM5:75,CF1:128,CF2:210,CF3:278,CM1:322,CM2:350};
cellNodes.forEach(n=>radial(109,412.5,cellClockWT[n],72.5,n,6,'#111'));
wtGenes.forEach(n=>radial(286.3,412.8,wtLabelClock[n],71,n,6,'#111'));
cellNodes.forEach(n=>radial(498.7,412.5,cellClockR4[n],72.5,n,6,BLUE));
r4Genes.forEach(n=>radial(677.7,412.7,r4LabelClock[n],71,n,6,BLUE));

const chart=echarts.init(document.getElementById('c'),null,{renderer:'canvas'});
chart.setOption({animation:false,backgroundColor:'#fff',grid,xAxis,yAxis,series,visualMap:visualMaps,graphic:{elements:graphic}});
const extra=[];
chords.forEach(c=>{
  const d=chart.getModel().getSeriesByIndex(c.idx).getData();
  c.nodes.forEach((n,i)=>{const L=d.getItemLayout(i);if(!L)return;
    const step=13*Math.PI/180;
    for(let a=L.startAngle;a<=L.endAngle+1e-6;a+=step){const co=Math.cos(a),si=Math.sin(a);
      extra.push({type:'line',silent:true,z:95,shape:{x1:c.cx+67*co,y1:c.cy+67*si,x2:c.cx+68.6*co,y2:c.cy+68.6*si},style:{stroke:'#999',lineWidth:.5}});}
  });
});
chart.setOption({graphic:{elements:graphic.concat(extra)}});
// ribbon outlines: the chord series gives no stroke with a source fill, so set it on its edges
chords.forEach(c=>{
  const view=chart._chartsViews.find(v=>v.__model===chart.getModel().getSeriesByIndex(c.ribbonIdx))||chart._chartsViews[c.ribbonIdx];
  view.group.traverse(el=>{if(el.shape&&el.shape.sStartAngle!==undefined)el.setStyle({stroke:'#000',lineWidth:.55});});
});
chart.getZr().refresh();
</script></body></html>
